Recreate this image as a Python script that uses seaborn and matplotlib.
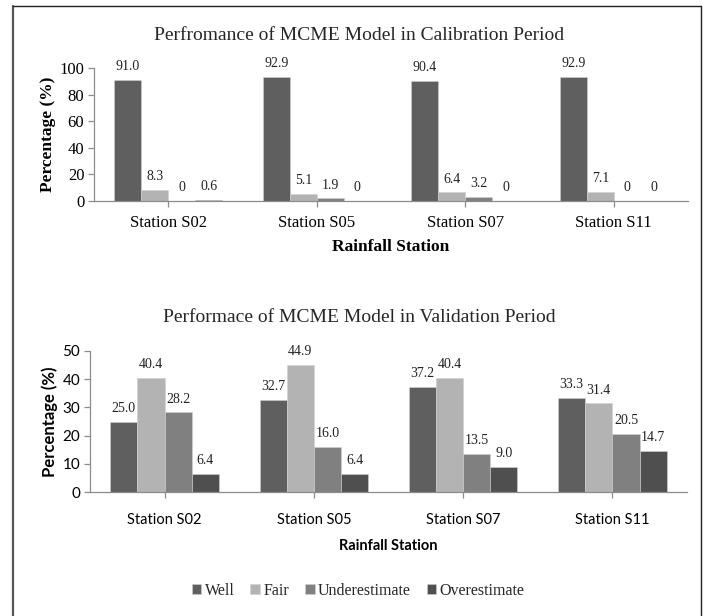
import matplotlib
matplotlib.use("Agg")
import matplotlib.pyplot as plt
from matplotlib.lines import Line2D
import seaborn as sns
import pandas as pd

stations = ["Station S02", "Station S05", "Station S07", "Station S11"]
classes = ["Well", "Fair", "Underestimate", "Overestimate"]
calib_well = [91.0, 92.9, 90.4, 92.9]
calib_fair = [8.3, 5.1, 6.4, 7.1]
calib_under = [0.0, 1.9, 3.2, 0.0]
calib_over = [0.6, 0.0, 0.0, 0.0]
valid_well = [25.0, 32.7, 37.2, 33.3]
valid_fair = [40.4, 44.9, 40.4, 31.4]
valid_under = [28.2, 16.0, 13.5, 20.5]
valid_over = [6.4, 6.4, 9.0, 14.7]
colors = ["#5f5f5f", "#b3b3b3", "#808080", "#4f4f4f"]

calib_title = "Perfromance of MCME Model in Calibration Period"
valid_title = "Performace of MCME Model in Validation Period"


def long_df(series):
    rows = []
    for cls, vals in zip(classes, series):
        for st, v in zip(stations, vals):
            rows.append({"Station": st, "Class": cls, "Value": v})
    return pd.DataFrame(rows)


df_c = long_df([calib_well, calib_fair, calib_under, calib_over])
df_v = long_df([valid_well, valid_fair, valid_under, valid_over])

sns.set_theme(style="white")
plt.rcParams["font.family"] = ["Liberation Serif", "DejaVu Serif"]

W, H = 705, 616
fig = plt.figure(figsize=(W / 100, H / 100), dpi=100)

ax1 = fig.add_axes([94 / W, 1 - 201 / H, (688 - 94) / W, (201 - 68) / H])
ax2 = fig.add_axes([90 / W, 1 - 492 / H, (687 - 90) / W, (492 - 351) / H])

SERIF = ["Liberation Serif", "DejaVu Serif"]
SANS = ["Lato", "DejaVu Sans"]
axis_col = "#8c8c8c"

cfg = [
    # ax, df, ylim, step, font, ticksize, xticksize, xlabsize, ylabsize, xlab_y, xpad
    (ax1, df_c, 100, 20, SERIF, 12, 12, 12.5, 12.5, -0.286, 6),
    (ax2, df_v, 50, 10, SANS, 11, 10.5, 10.5, 12, -0.33, 11),
]

for ax, df, ylim, step, font, tsize, xtsize, xlsize, ylsize, xlab_y, xpad in cfg:
    sns.barplot(data=df, x="Station", y="Value", hue="Class", hue_order=classes,
                order=stations, palette=colors, width=0.727, gap=0,
                edgecolor="#d0d0d0", linewidth=0.4, saturation=1, ax=ax,
                legend=(ax is ax2))
    ax.set_xlim(-0.5, 3.5)
    ax.set_ylim(0, ylim)
    ax.set_yticks(range(0, ylim + 1, step))
    for s in ["top", "right"]:
        ax.spines[s].set_visible(False)
    for s in ["left", "bottom"]:
        ax.spines[s].set_color(axis_col)
        ax.spines[s].set_linewidth(0.9)
    ax.tick_params(axis="both", colors=axis_col, length=4, width=0.9, direction="out",
                   left=True, bottom=True)
    ax.tick_params(axis="y", pad=3)
    ax.tick_params(axis="x", pad=xpad)
    for lab in ax.get_yticklabels():
        lab.set_color("black")
        lab.set_family(font)
        lab.set_fontsize(tsize)
    for lab in ax.get_xticklabels():
        lab.set_color("black")
        lab.set_family(font)
        lab.set_fontsize(xtsize)
    ax.set_xlabel("Rainfall Station", family=font, fontweight="bold",
                  fontsize=xlsize, color="black")
    ax.xaxis.set_label_coords(0.5, xlab_y)
    ax.set_ylabel("Percentage (%)", family=font, fontweight="bold",
                  fontsize=ylsize, color="black")
    for cont in ax.containers:
        vals = [b.get_height() for b in cont]
        labels = [f"{v:.1f}" if v != 0 else "0" for v in vals]
        ax.bar_label(cont, labels=labels, padding=5, fontsize=10, family=SERIF,
                     color="#222222")

ax1.yaxis.set_label_coords(-0.064, 0.5)
ax2.yaxis.set_label_coords(-0.054, 0.5)

fig.text(359 / W, 1 - 35 / H, calib_title, ha="center", va="center",
         fontsize=14, family=SERIF)
fig.text(359 / W, 1 - 317 / H, valid_title, ha="center", va="center",
         fontsize=14, family=SERIF)

leg = ax2.get_legend()
handles = leg.legend_handles
leg.remove()
fig.legend(handles, classes, loc="center", bbox_to_anchor=(358 / W, 1 - 591 / H),
           ncol=4, frameon=False, prop={"family": SERIF, "size": 11.5},
           handlelength=0.6, handleheight=0.6, handletextpad=0.2, columnspacing=1.0)

# outer frame
fig.add_artist(Line2D([13 / W, 13 / W], [0, 1 - 6 / H], color="#555555", lw=1.6,
                      transform=fig.transFigure))
fig.add_artist(Line2D([13 / W, 701 / W], [1 - 6 / H, 1 - 6 / H], color="#222222", lw=1.0,
                      transform=fig.transFigure))
fig.add_artist(Line2D([701 / W, 701 / W], [0, 1 - 6 / H], color="#222222", lw=1.0,
                      transform=fig.transFigure))

fig.savefig("out.png", dpi=100)
